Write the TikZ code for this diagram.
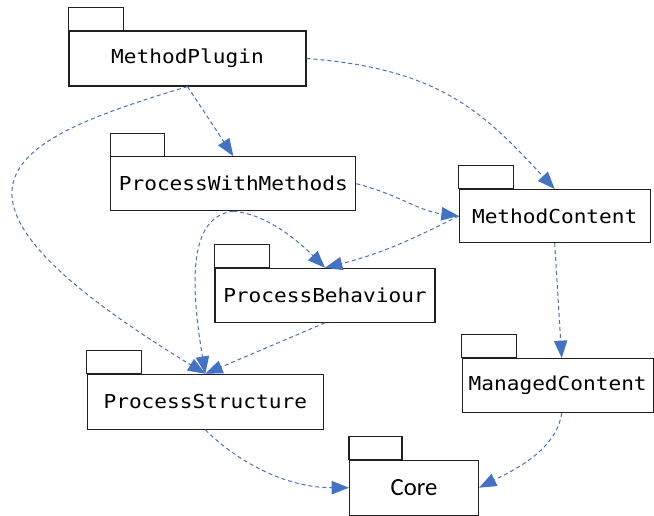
\documentclass[tikz,border=0pt]{standalone}
\usepackage{fontspec}
\newfontfamily\pkgmono[FakeStretch=1.1]{DejaVu Sans Mono}
\newfontfamily\pkgsans{Carlito}
\usetikzlibrary{arrows.meta}
\definecolor{deplink}{HTML}{4472C4}
\definecolor{pkgedge}{HTML}{202020}

\begin{document}
\begin{tikzpicture}[x=0.75pt,y=-0.75pt,
  pkgline/.style={draw=pkgedge, line width=0.8pt},
  pkg/.style n args={2}{pkgline, fill=white, rectangle, inner sep=0pt,
    minimum width=#1*0.75pt, minimum height=#2*0.75pt,
    font=\pkgmono\fontsize{14.4pt}{16pt}\selectfont},
  dep/.style={draw=deplink, line width=0.75pt, dash pattern=on 3pt off 2.25pt,
    -{Triangle[length=13pt,width=10pt,fill=deplink]}}
]
\useasboundingbox[fill=white] (0,0) rectangle (654,516);

% package bodies
\node[pkg={237}{55}] (mp)  at (187.5,58.5)  {MethodPlugin};
\node[pkg={245}{54}] (pwm) at (233.3,183.7) {ProcessWithMethods};
\node[pkg={191}{53}] (mc)  at (554.7,216)   {MethodContent};
\node[pkg={220}{54}] (pb)  at (325,295.3)   {ProcessBehaviour};
\node[pkg={236}{55}] (ps)  at (205.3,401.8) {ProcessStructure};
\node[pkg={191}{54}] (mgc) at (557.7,385.5) {ManagedContent};
\node[pkg={129}{55}, font=\pkgsans\fontsize{18.5pt}{20pt}\selectfont] (core) at (414,487.7) {Core};

% package tabs
\foreach \n/\w in {mp/55, pwm/54, mc/55, pb/55, ps/55, mgc/55, core/53}
  \draw[pkgline] (\n.north west) rectangle ++(\w,-23);

% dependencies
\draw[dep] (mp.south) -- (pwm.north);
\draw[dep] (mp.east) .. controls +(135,10) and +(-70,-75) .. (mc.north);
\draw[dep] (mp.south) .. controls +(-176,53) and +(-305,-186) .. (ps.north);
\draw[dep] (pwm.east) .. controls +(40,10) and +(-40,-5) .. (mc.west);
\draw[dep] (pwm.south) .. controls +(35,3) and +(-25,-25) .. (pb.north);
\draw[dep] (pwm.south) .. controls +(-45,5) and +(-15,-90) .. (ps.north);
\draw[dep] (mc.west) .. controls +(-40,20) and +(60,-15) .. (pb.north);
\draw[dep] (pb.south) -- (ps.north);
\draw[dep] (mc.south) -- ([xshift=3pt]mgc.north);
\draw[dep] (ps.south) .. controls +(25,25) and +(-70,0) .. (core.west);
\draw[dep] ([xshift=3pt]mgc.south) .. controls +(-5,35) and +(40,-20) .. (core.east);
\end{tikzpicture}
\end{document}
